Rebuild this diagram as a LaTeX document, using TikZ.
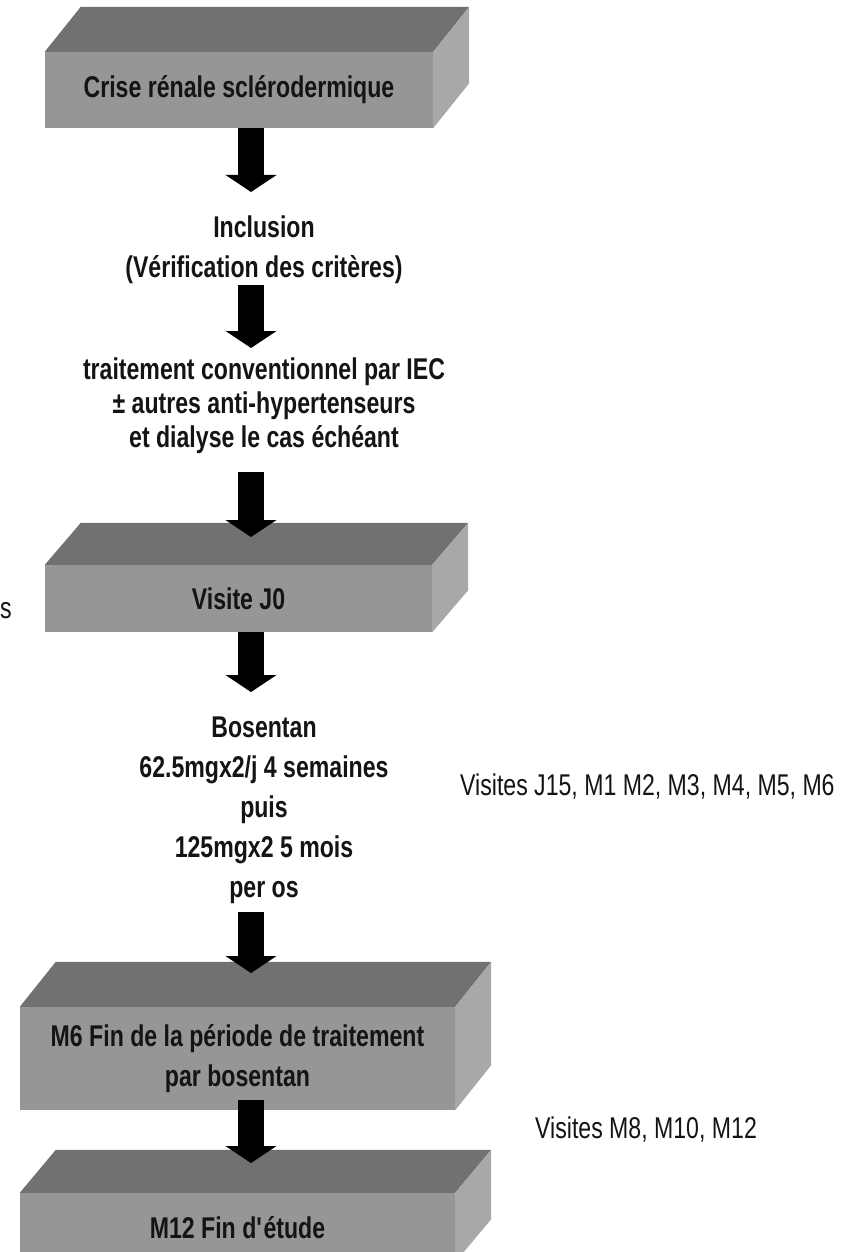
\documentclass[tikz,border=0pt]{standalone}
\usepackage{fontspec}
\setmainfont[FakeStretch=0.77]{Liberation Sans}
\usetikzlibrary{arrows.meta}
\definecolor{frontc}{RGB}{150,150,150}
\definecolor{topc}{RGB}{113,113,113}
\definecolor{sidec}{RGB}{168,168,168}
\definecolor{txtc}{RGB}{20,20,20}
\newcommand\bigbold{\fontsize{30}{40}\selectfont\bfseries}
\newcommand\bigtight{\fontsize{30}{34}\selectfont\bfseries}
\newcommand\bignormal{\fontsize{30}{34}\selectfont}
\newcommand\cuboidfaces[3]{%
  \fill[topc] (#1.north west) -- ++(#2,-#3) -- ([shift={(#2,-#3)}]#1.north east) -- (#1.north east) -- cycle;
  \fill[sidec] (#1.north east) -- ++(#2,-#3) -- ([shift={(#2,-#3)}]#1.south east) -- (#1.south east) -- cycle;}
\begin{document}
\begin{tikzpicture}[x=1pt,y=-1pt,
  cuboid/.style={rectangle, fill=frontc, inner sep=0pt, text=txtc, font=\bigbold, align=center},
  flowtext/.style={inner sep=0pt, text=txtc, align=center},
  note/.style={inner sep=0pt, text=txtc, font=\bignormal, anchor=west},
  bigarrow/.style={draw=black, line width=26pt, -{Triangle[width=51pt,length=17pt,line width=0pt]}}]
\clip (0,0) rectangle (854,1252);
\fill[white] (0,0) rectangle (854,1252);

% boxes
\node[cuboid, minimum width=388, minimum height=76] (box1) at (239,90) {Crise rénale sclérodermique};
\cuboidfaces{box1}{36}{45}
\node[cuboid, minimum width=387, minimum height=67] (j0) at (238.5,598.5) {Visite J0};
\cuboidfaces{j0}{36}{42}
\node[cuboid, minimum width=435, minimum height=103] (m6) at (237.5,1058.5) {M6 Fin de la période de traitement\\par bosentan};
\cuboidfaces{m6}{36}{45}
\node[cuboid, minimum width=435, minimum height=69] (m12) at (237.5,1227.5) {M12 Fin d\textquotesingle étude};
\cuboidfaces{m12}{36}{43}

% free texts
\node[flowtext, font=\bigbold] (incl) at (264,250) {Inclusion\\(Vérification des critères)};
\node[flowtext, font=\bigtight] (trait) at (264,406) {traitement conventionnel par IEC\\± autres anti-hypertenseurs\\et dialyse le cas échéant};
\node[flowtext, font=\bigbold] (bos) at (264,810) {Bosentan\\62.5mgx2/j 4 semaines\\puis\\125mgx2 5 mois\\per os};
\node[note] (v1) at (460,787) {Visites J15, M1 M2, M3, M4, M5, M6};
\node[note] (v2) at (535,1130) {Visites M8, M10, M12};
\node[note] (vs) at (0,611) {s};

% arrow end points
\coordinate (t1) at (251,192);
\coordinate (s2) at (251,285);
\coordinate (t2) at (251,348);
\coordinate (s3) at (251,472);
\coordinate (t3) at (251,537);
\coordinate (t4) at (251,692);
\coordinate (s5) at (251,912);
\coordinate (t5) at (251,973);
\coordinate (s6) at (251,1100);
\coordinate (t6) at (251,1163);

\draw[bigarrow] (box1.south -| t1) -- (t1);
\draw[bigarrow] (s2) -- (t2);
\draw[bigarrow] (s3) -- (t3);
\draw[bigarrow] (j0.south -| t4) -- (t4);
\draw[bigarrow] (s5) -- (t5);
\draw[bigarrow] (s6) -- (t6);
\end{tikzpicture}
\end{document}
